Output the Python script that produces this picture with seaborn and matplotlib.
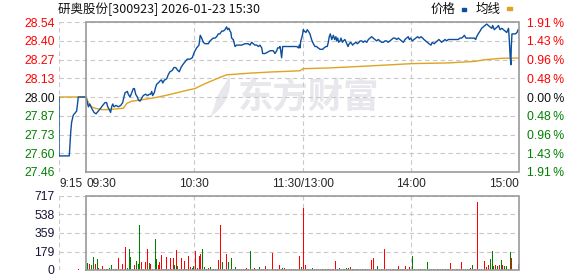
import matplotlib
matplotlib.use("Agg")
import numpy as np
import pandas as pd
import matplotlib.pyplot as plt
import seaborn as sns
from matplotlib.patches import Rectangle, Polygon

# ---------------- data ----------------
TITLE = "研奥股份[300923] 2026-01-23 15:30"
LEGEND_LABELS = ["价格", "均线"]
WATERMARK = "东方财富"
PREV_CLOSE = 28.00
PRICE_TICKS = ["28.54", "28.40", "28.27", "28.13", "28.00", "27.87", "27.73", "27.60", "27.46"]
PCT_TICKS = ["1.91\u2009%", "1.43\u2009%", "0.96\u2009%", "0.48\u2009%", "0.00\u2009%",
             "0.48\u2009%", "0.96\u2009%", "1.43\u2009%", "1.91\u2009%"]
PCT_RANGE = 1.91
TIME_TICK_POS = [0, 15, 75, 135, 195, 255]      # minutes since 9:15 on the trading clock
TIME_TICK_LABELS = ["9:15", "09:30", "10:30", "11:30/13:00", "14:00", "15:00"]
VOL_TICKS = [717, 538, 359, 179, 0]

price_t = [0, 0, 5.7, 6.5, 7.0, 7.9, 9.8, 10.7, 15.0,
           15.7, 16.3, 17.0, 18.1, 19.4, 20.5, 21.8, 23.1, 24.2, 25.5, 26.4, 27.0, 27.9, 28.6,
           29.2, 29.8, 30.5, 31.6, 32.9, 34.2, 35.3, 36.0, 36.6, 37.9, 38.4, 39.4, 40.3, 41.2,
           41.8, 42.5, 43.4, 44.0, 44.9, 45.8, 46.7, 48.0, 49.1, 50.1, 50.8, 51.4, 51.9, 52.8,
           53.6, 54.1, 55.0, 56.4, 56.9, 57.5, 58.4, 59.7, 60.6, 61.5, 62.8, 63.7, 64.7, 65.8,
           66.7, 67.6, 68.6, 69.8, 71.1, 72.6, 73.9, 75.0, 76.3, 77.6, 78.3, 79.1, 80.0, 80.9,
           82.8, 83.7, 85.5, 86.5, 87.4, 88.3, 89.2, 90.2, 91.1, 92.0, 92.9, 93.5, 94.2, 94.8,
           95.3, 95.7, 96.6, 97.6, 98.5, 99.4, 101.3, 103.1, 104.9, 105.9, 106.8, 107.7, 108.6,
           109.6, 110.5, 111.4, 112.4, 112.9, 113.6, 114.2, 115.7, 117.0, 118.8, 119.7, 120.7,
           121.2, 122.0, 122.5, 122.9, 123.4, 124.0, 125.3, 127.1, 129.0, 130.8, 131.8, 132.7,
           133.2, 133.6, 134.0, 134.5, 135.1, 135.4, 136.0, 136.9, 137.6, 138.2, 139.1, 140.0,
           141.0, 141.9, 142.8, 143.7, 144.7, 146.2, 146.9, 148.0, 148.7, 149.3, 149.8, 150.4,
           151.2, 151.5, 152.1, 152.8, 153.5, 153.9, 154.5, 155.0, 155.8, 156.3, 157.1, 157.6,
           158.5, 159.5, 160.2, 160.9, 161.7, 162.8, 163.5, 164.6, 165.4, 166.3, 166.9, 167.8,
           168.7, 169.6, 170.6, 171.5, 172.4, 173.3, 174.2, 175.2, 176.1, 177.0, 177.9, 178.9,
           179.8, 180.7, 181.6, 182.5, 183.5, 184.4, 185.3, 186.3, 187.2, 188.1, 189.0, 189.9,
           190.9, 191.8, 192.7, 193.6, 194.2, 194.9, 195.8, 196.8, 197.9, 198.8, 199.7, 200.7,
           201.6, 202.3, 203.3, 204.2, 205.1, 206.2, 206.9, 208.0, 208.8, 209.7, 210.6, 211.4,
           212.1, 213.0, 214.0, 214.9, 215.8, 221.3, 222.3, 223.2, 224.1, 224.7, 225.6, 226.9,
           227.8, 228.8, 230.2, 231.0, 231.5, 232.4, 233.4, 234.3, 235.2, 236.1, 237.1, 238.0,
           238.9, 239.9, 240.4, 241.3, 242.1, 243.0, 243.6, 244.5, 245.5, 246.4, 247.3, 248.2,
           249.2, 249.6, 250.1, 250.5, 250.7, 251.1, 251.7, 253.0, 253.9, 254.5, 255.0]
price_v = [28.00, 27.58, 27.58, 27.75, 27.82, 27.87, 27.90, 28.00, 28.00,
           27.96, 27.93, 27.95, 27.92, 27.89, 27.88, 27.90, 27.92, 27.94, 27.96, 27.96, 27.93, 27.91, 27.89,
           27.93, 27.95, 27.93, 27.94, 27.93, 27.94, 27.96, 28.00, 28.03, 28.04, 28.02, 28.00, 28.03, 28.06,
           28.06, 28.02, 28.00, 27.98, 27.97, 27.99, 28.01, 28.02, 28.01, 28.02, 28.02, 28.04, 28.01, 28.03,
           28.07, 28.09, 28.10, 28.12, 28.12, 28.10, 28.12, 28.13, 28.16, 28.18, 28.19, 28.21, 28.21, 28.19,
           28.18, 28.21, 28.23, 28.25, 28.27, 28.27, 28.28, 28.32, 28.35, 28.37, 28.44, 28.42, 28.39, 28.38,
           28.38, 28.40, 28.42, 28.42, 28.43, 28.45, 28.45, 28.47, 28.47, 28.48, 28.50, 28.48, 28.49, 28.47,
           28.46, 28.42, 28.41, 28.36, 28.37, 28.37, 28.37, 28.38, 28.38, 28.37, 28.39, 28.38, 28.37,
           28.37, 28.36, 28.37, 28.35, 28.31, 28.31, 28.31, 28.32, 28.33, 28.33, 28.31, 28.33,
           28.35, 28.35, 28.36, 28.33, 28.28, 28.36, 28.36, 28.36, 28.36, 28.36, 28.36, 28.35,
           28.37, 28.35, 28.40, 28.42, 28.45, 28.48, 28.47, 28.46, 28.48, 28.47, 28.45, 28.41,
           28.38, 28.36, 28.36, 28.35, 28.34, 28.34, 28.35, 28.36, 28.36, 28.39, 28.43, 28.45,
           28.41, 28.42, 28.44, 28.41, 28.43, 28.40, 28.42, 28.39, 28.40, 28.42, 28.39, 28.40,
           28.41, 28.38, 28.36, 28.38, 28.39, 28.37, 28.38, 28.39, 28.38, 28.39, 28.40, 28.40,
           28.39, 28.40, 28.39, 28.41, 28.42, 28.43, 28.42, 28.41, 28.40, 28.41, 28.40, 28.39,
           28.39, 28.40, 28.40, 28.39, 28.40, 28.41, 28.42, 28.42, 28.41, 28.42, 28.41, 28.40,
           28.39, 28.41, 28.42, 28.43, 28.41, 28.42, 28.40, 28.41, 28.42, 28.43, 28.42, 28.43,
           28.42, 28.41, 28.40, 28.39, 28.38, 28.37, 28.39, 28.38, 28.39, 28.40, 28.41, 28.40,
           28.39, 28.40, 28.41, 28.40, 28.41, 28.41, 28.42, 28.42, 28.43, 28.44, 28.42, 28.42,
           28.42, 28.42, 28.42, 28.41, 28.43, 28.45, 28.47, 28.49, 28.50, 28.51, 28.52, 28.51,
           28.50, 28.49, 28.51, 28.48, 28.49, 28.50, 28.51, 28.48, 28.49, 28.48, 28.47, 28.46,
           28.49, 28.41, 28.29, 28.23, 28.35, 28.45, 28.45, 28.45, 28.46, 28.48, 28.48]

avg_t = [0, 15.0, 16.3, 18.1, 20.0, 23.7, 27.4, 35.7, 37.6, 40.3, 45.8, 53.2, 58.8, 64.3, 71.7,
         75.4, 78.5, 80.8, 89.2, 92.9, 105.7, 117.0, 133.6, 135.4, 149.3, 160.4, 166.9, 184.4,
         195.5, 215.8, 230.6, 236.1, 245.4, 255.0]
avg_v = [28.00, 28.00, 27.96, 27.93, 27.92, 27.91, 27.91, 27.92, 27.955, 27.97, 27.98, 27.995,
         28.01, 28.027, 28.05, 28.06, 28.08, 28.094, 28.14, 28.158, 28.17, 28.178, 28.187, 28.202,
         28.207, 28.214, 28.218, 28.23, 28.238, 28.243, 28.254, 28.266, 28.276, 28.278]

vol_t = [11.0,
         16.0, 17.1, 18.2, 19.3, 20.0, 21.2, 22.1, 23.0, 24.1, 25.0, 26.1, 27.1, 28.2, 29.3, 30.4,
         31.3, 32.1, 33.2, 34.1, 35.0, 36.1, 37.0, 38.0, 39.3, 39.8, 40.7, 41.9, 43.0, 44.1, 44.8,
         45.9, 46.8, 48.1, 49.2, 50.0, 50.9, 52.0, 53.3, 54.2, 55.0, 55.9, 57.0, 57.9, 58.9, 59.8,
         60.9, 61.6, 62.5, 63.3, 63.9, 64.9, 65.9, 66.8, 68.1, 68.8, 69.8, 70.7, 72.0, 72.7, 73.8,
         74.7, 75.7, 76.8, 77.9, 78.6, 79.7, 80.8, 81.8, 82.9, 83.8, 84.9, 85.8, 86.8, 87.7, 88.6,
         89.7, 90.8, 91.7, 93.0, 94.0, 94.9, 95.8, 96.9, 98.0, 99.1, 100.2, 101.2, 102.1, 103.2,
         104.1, 105.2, 106.0, 107.1, 108.2, 109.1, 110.2, 111.1, 112.3, 113.4, 114.5, 115.6, 118.2,
         119.1, 120.2, 121.3, 122.0, 123.2, 124.1, 125.0, 126.1, 128.0, 128.9, 130.0, 131.1, 132.0,
         133.5, 134.6, 135.7, 136.8, 137.6, 138.5, 139.4, 140.7, 141.6, 142.7, 144.0, 145.0, 145.9,
         146.8, 147.7, 148.7, 149.6, 150.5, 151.4, 152.3, 153.5, 154.6, 155.7, 156.6, 157.5, 158.4,
         159.6, 160.7, 161.6, 162.5, 163.4, 164.4, 165.3, 166.2, 167.1, 168.1, 169.0, 169.9, 170.8,
         171.9, 173.4, 174.5, 175.6, 176.7, 177.7, 178.6, 179.5, 180.6, 181.7, 182.8, 183.8, 184.7,
         185.6, 186.7, 187.5, 188.4, 189.3, 190.2, 191.1, 192.3, 193.4, 194.5, 196.0, 197.1, 199.5,
         200.4, 201.5, 202.4, 204.5, 205.6, 206.5, 207.4, 208.5, 209.6, 210.5, 211.5, 212.4, 213.3,
         214.2, 215.2, 216.1, 217.1, 218.1, 219.1, 220.2, 221.1, 222.2, 223.2, 224.4, 225.3, 226.3,
         227.4, 228.1, 229.3, 230.3, 231.1, 232.2, 233.3, 234.4, 235.7, 236.8, 237.9, 239.2, 240.3,
         240.8, 241.9, 243.0, 244.1, 245.3, 245.8, 246.9, 248.0, 249.1, 250.2, 250.8, 254.7]
vol_v = [10,
         71, 58, 48, 129, 58, 103, 16, 10, 39, 10, 10, 10, 23, 48, 10,
         10, 10, 113, 10, 58, 10, 226, 16, 200, 129, 10, 48, 87, 55, 436,
         81, 10, 81, 200, 65, 58, 10, 300, 107, 48, 81, 145, 10, 10, 129,
         10, 116, 10, 113, 48, 194, 39, 10, 116, 10, 87, 10, 136, 32, 23,
         39, 184, 23, 139, 158, 203, 32, 10, 16, 26, 10, 10, 10, 10, 97,
         436, 81, 10, 155, 81, 10, 116, 10, 26, 10, 10, 10, 10, 10,
         16, 10, 184, 10, 16, 10, 10, 26, 10, 10, 39, 10, 168,
         10, 10, 10, 48, 10, 23, 23, 10, 10, 10, 10, 10, 10,
         136, 26, 597, 48, 10, 10, 10, 16, 10, 10, 10, 10, 10,
         10, 10, 10, 10, 10, 10, 10, 87, 10, 16, 10, 10, 10,
         16, 16, 26, 10, 10, 10, 10, 10, 10, 10, 10, 10, 10,
         10, 97, 116, 10, 39, 10, 10, 10, 200, 10, 10, 10, 10,
         10, 10, 10, 39, 10, 10, 10, 39, 10, 26, 136, 10, 10,
         10, 10, 10, 78, 10, 10, 10, 10, 10, 10, 10, 10, 10,
         10, 10, 10, 68, 10, 10, 10, 10, 10, 78, 10, 10, 10,
         10, 20, 48, 10, 10, 659, 10, 10, 87, 32, 48, 107, 184,
         39, 48, 39, 48, 97, 48, 39, 39, 10, 174, 116, 58]
vol_up = [1,
          0, 1, 0, 0, 1, 0, 1, 0, 1, 0, 1, 0, 0, 0, 0,
          0, 1, 1, 1, 1, 1, 1, 0, 0, 0, 0, 1, 0, 0, 0,
          1, 0, 1, 1, 0, 1, 1, 0, 0, 1, 1, 1, 1, 0, 1,
          1, 1, 0, 1, 0, 1, 0, 0, 1, 0, 1, 0, 1, 1, 0,
          0, 1, 1, 1, 1, 0, 0, 0, 1, 0, 1, 0, 0, 0, 1,
          1, 0, 1, 1, 0, 0, 0, 1, 0, 0, 1, 1, 1, 0,
          1, 1, 0, 1, 1, 1, 0, 0, 1, 0, 1, 0, 1,
          1, 1, 1, 1, 0, 0, 1, 1, 0, 1, 1, 1, 0,
          1, 0, 1, 1, 0, 1, 0, 0, 0, 0, 1, 0, 0,
          1, 1, 0, 1, 1, 1, 1, 1, 0, 0, 0, 0, 1,
          0, 0, 1, 1, 0, 1, 0, 1, 0, 1, 1, 1, 0,
          1, 1, 1, 1, 0, 0, 0, 0, 1, 1, 1, 1, 1,
          0, 1, 0, 1, 0, 0, 1, 1, 1, 1, 0, 0, 1,
          1, 0, 1, 0, 0, 0, 1, 1, 0, 1, 0, 1, 1,
          0, 0, 0, 1, 1, 1, 1, 0, 1, 1, 1, 0, 0,
          1, 1, 0, 1, 1, 1, 1, 1, 1, 1, 1, 0, 0,
          0, 1, 0, 1, 0, 1, 0, 0, 1, 0, 1, 1]

# ---------------- style ----------------
sns.set_style("white")
plt.rcParams["font.family"] = ["Liberation Sans", "DejaVu Sans"]
CJK = ["Noto Sans CJK SC", "DejaVu Sans"]

C_PRICE = "#0b4f9e"
C_AVG = "#dea321"
C_UP = "#ff0000"
C_DOWN = "#008000"
C_FRAME = "#9a9a9a"
C_GRID = "#c8c8c8"
C_MARK = "#e7e7ec"
DASH = (0, (4, 3))

W, H = 578, 276
fig = plt.figure(figsize=(W / 100, H / 100), dpi=100)
fig.patch.set_facecolor("white")


def rect(x0, y0, x1, y1):
    return [x0 / W, 1 - y1 / H, (x1 - x0) / W, (y1 - y0) / H]


ax_p = fig.add_axes(rect(59, 22, 519, 172))
ax_v = fig.add_axes(rect(59, 196, 519, 270))

t0, t_open, t_end = TIME_TICK_POS[0], TIME_TICK_POS[1], TIME_TICK_POS[-1]
span = PREV_CLOSE * PCT_RANGE / 100
ymax, ymin = PREV_CLOSE + span, PREV_CLOSE - span
price_ticks = np.linspace(ymax, ymin, len(PRICE_TICKS))

for ax in (ax_p, ax_v):
    for s in ax.spines.values():
        s.set_visible(False)
    ax.set_xlim(t0, t_end)

# ---- price panel ----
ax_p.set_ylim(ymin, ymax)
ax_p.hlines(price_ticks, t0, t_end, colors=C_GRID, linestyles=DASH, lw=0.8, zorder=1)
ax_p.vlines([TIME_TICK_POS[0], TIME_TICK_POS[2], TIME_TICK_POS[3], TIME_TICK_POS[4]],
            ymin, ymax, colors=C_GRID, linestyles=DASH, lw=0.8, zorder=1)
ax_p.plot([t_open, t_end, t_end, t_open, t_open], [ymin, ymin, ymax, ymax, ymin],
          color=C_FRAME, lw=1.2, clip_on=False, zorder=5, solid_joinstyle="miter")

# watermark (text + swoosh), drawn behind the lines
ax_p.text(309 / W, 1 - 98 / H, WATERMARK, transform=fig.transFigure, family=CJK,
          fontsize=25.5, fontweight="bold", color=C_MARK, ha="center", va="center", zorder=0.5)
theta = np.radians(np.linspace(10, -60, 40))
s = np.linspace(0, 1, 40)
cx, cy, R = 190, 82, 40
outer = np.c_[cx + R * np.cos(theta), H - (cy - R * np.sin(theta))]
r_in = R - 9 * np.sin(np.pi * s)
inner = np.c_[cx + r_in * np.cos(theta), H - (cy - r_in * np.sin(theta))][::-1]
swoosh = Polygon(np.vstack([outer, inner]), closed=True, facecolor=C_MARK, edgecolor="none",
                 transform=None, zorder=0.5)
ax_p.add_artist(swoosh)

pdf = pd.DataFrame({"t": price_t, "p": price_v})
adf = pd.DataFrame({"t": avg_t, "p": avg_v})
sns.lineplot(data=adf, x="t", y="p", ax=ax_p, color=C_AVG, lw=1.0, estimator=None, sort=False,
             zorder=3)
sns.lineplot(data=pdf, x="t", y="p", ax=ax_p, color=C_PRICE, lw=1.0, estimator=None, sort=False,
             zorder=4)
ax_p.set_xlim(t0, t_end)
ax_p.set_ylim(ymin, ymax)
ax_p.set_xlabel("")
ax_p.set_ylabel("")

ax_p.set_yticks(price_ticks)
ax_p.set_yticklabels(PRICE_TICKS, fontsize=8.8)
ax_p.tick_params(axis="y", length=0, pad=3)
mid = len(PRICE_TICKS) // 2
for i, lab in enumerate(ax_p.get_yticklabels()):
    lab.set_color(C_UP if i < mid else ("#111111" if i == mid else C_DOWN))

ax_p.set_xticks(TIME_TICK_POS)
ax_p.set_xticklabels(TIME_TICK_LABELS, fontsize=8.6)
ax_p.tick_params(axis="x", length=0, pad=4)
aligns = ["left", "left", "center", "center", "center", "right"]
for lab, ha in zip(ax_p.get_xticklabels(), aligns):
    lab.set_ha(ha)

ax_r = ax_p.twinx()
for sp in ax_r.spines.values():
    sp.set_visible(False)
ax_r.set_ylim(ymin, ymax)
ax_r.set_yticks(price_ticks)
ax_r.set_yticklabels(PCT_TICKS, fontsize=8.8)
ax_r.tick_params(axis="y", length=0, pad=6)
for i, lab in enumerate(ax_r.get_yticklabels()):
    lab.set_color(C_UP if i < mid else ("#111111" if i == mid else C_DOWN))

# ---- volume panel ----
vmax = VOL_TICKS[0]
ax_v.set_ylim(0, vmax)
ax_v.hlines(VOL_TICKS, t0, t_end, colors=C_GRID, linestyles=DASH, lw=0.8, zorder=1)
ax_v.vlines([TIME_TICK_POS[0], TIME_TICK_POS[2], TIME_TICK_POS[3], TIME_TICK_POS[4]],
            0, vmax, colors=C_GRID, linestyles=DASH, lw=0.8, zorder=1)
vcol = [C_UP if u else C_DOWN for u in vol_up]
ax_v.bar(vol_t, vol_v, width=0.6, color=vcol, linewidth=0, zorder=3, antialiased=False)
ax_v.plot([t_open, t_end, t_end, t_open, t_open], [0, 0, vmax, vmax, 0],
          color=C_FRAME, lw=1.2, clip_on=False, zorder=5, solid_joinstyle="miter")
ax_v.set_yticks(VOL_TICKS)
ax_v.set_yticklabels([str(v) for v in VOL_TICKS], fontsize=8.8, color="#14143a")
ax_v.tick_params(axis="y", length=0, pad=3)
ax_v.set_xticks([])

# ---- title & legend ----
fig.text(58 / W, 1 - 9 / H, TITLE, family=CJK, fontsize=9, color="#111111", va="center", ha="left")
fig.text(431 / W, 1 - 9 / H, LEGEND_LABELS[0], family=CJK, fontsize=9, color="#111111",
         va="center", ha="left")
fig.text(476 / W, 1 - 9 / H, LEGEND_LABELS[1], family=CJK, fontsize=9, color="#111111",
         va="center", ha="left")
fig.add_artist(Rectangle((462 / W, 1 - 11 / H), 4 / W, 3 / H, color=C_PRICE,
                         transform=fig.transFigure))
fig.add_artist(Rectangle((507 / W, 1 - 10 / H), 5 / W, 3 / H, color=C_AVG,
                         transform=fig.transFigure))

fig.savefig("out.png", dpi=100, facecolor="white")
